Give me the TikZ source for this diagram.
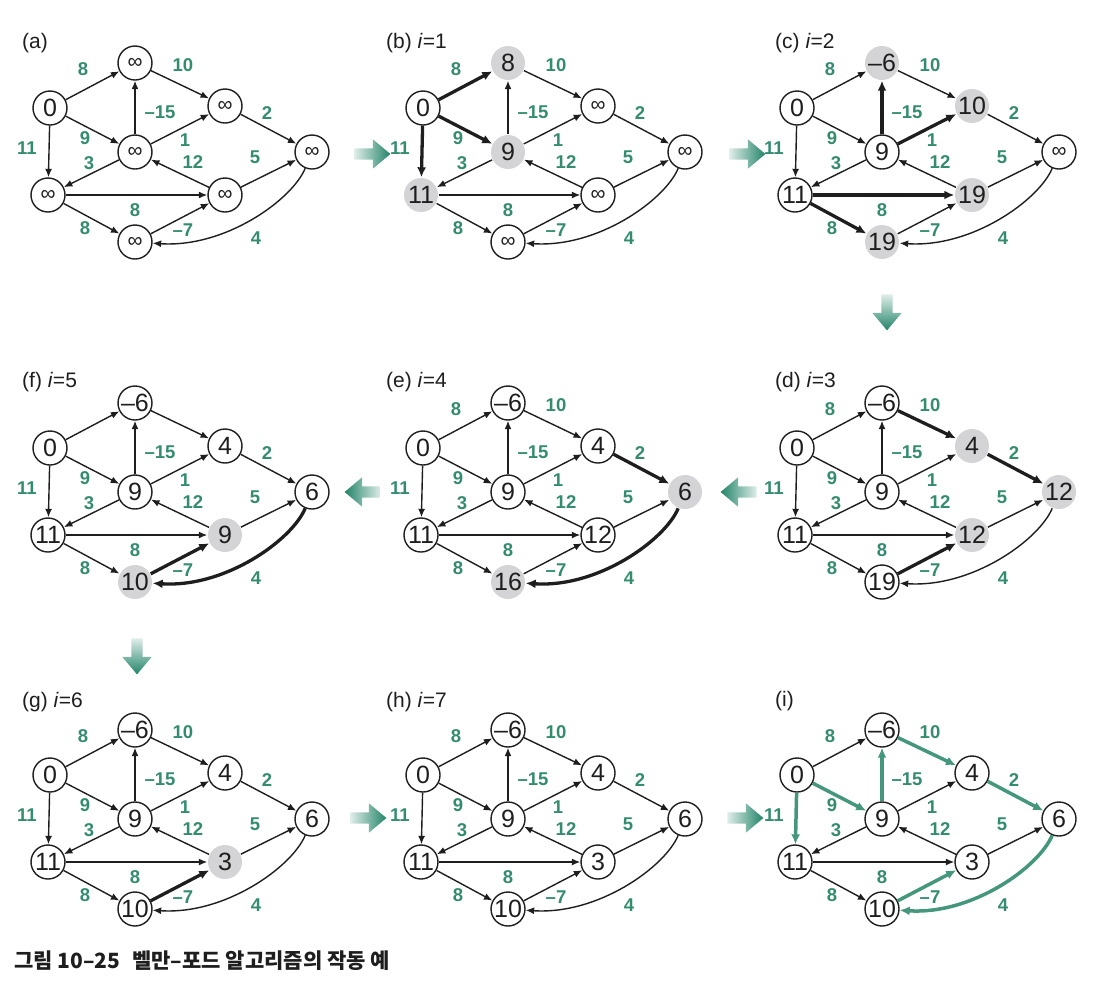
\documentclass[tikz,border=0pt]{standalone}
\usepackage{fontspec}
\setmainfont{Liberation Sans}
\newfontfamily\cjk{Noto Sans CJK KR}
\usetikzlibrary{arrows.meta,shapes.arrows}
\definecolor{lblgreen}{RGB}{52,140,112}
\definecolor{agreen}{RGB}{34,132,104}
\definecolor{egreen}{RGB}{68,150,125}
\definecolor{nodegray}{RGB}{212,212,214}
\definecolor{ink}{RGB}{30,30,30}
\newcommand\infv{{\fontsize{21}{21}\selectfont ∞}}
\tikzset{
 vnode/.style={circle, draw=ink, line width=1.4pt, minimum size=34pt, inner sep=0pt, text=ink, font=\fontsize{25}{25}\selectfont},
 grayv/.style={fill=nodegray, draw=none},
 edge/.style={draw=ink, line width=1.4pt, -{Latex[length=8.5pt,width=7pt]}},
 boldedge/.style={line width=3.3pt, -{Latex[length=10pt,width=9pt]}},
 greenedge/.style={draw=egreen, line width=3.5pt, -{Latex[length=10pt,width=9pt]}},
 elab/.style={text=lblgreen, font=\fontsize{18.5}{18.5}\selectfont\bfseries, inner sep=0pt},
 plab/.style={anchor=west, text=ink, font=\fontsize{21}{21}\selectfont, inner sep=0pt},
 blockarrow/.style={single arrow, minimum height=36pt, minimum width=29pt, inner sep=5.5pt, single arrow head extend=9pt, single arrow tip angle=80, draw=none},
 rarrow/.style={blockarrow, left color=agreen!15, right color=agreen},
 larrow/.style={blockarrow, shape border rotate=180, right color=agreen!15, left color=agreen},
 darrow/.style={blockarrow, shape border rotate=270, top color=agreen!15, bottom color=agreen},
 panel a/.style={shift={(0,0)}},
 panel b/.style={shift={(373,0)}},
 panel c/.style={shift={(747,0)}},
 panel d/.style={shift={(747,340)}},
 panel e/.style={shift={(373,340)}},
 panel f/.style={shift={(0,340)}},
 panel g/.style={shift={(0,667)}},
 panel h/.style={shift={(373,667)}},
 panel i/.style={shift={(747,667)}},
 hl b t/.style=grayv, hl b m/.style=grayv, hl b l/.style=grayv,
 hl b st/.style=boldedge, hl b sm/.style=boldedge, hl b sl/.style=boldedge,
 hl c t/.style=grayv, hl c u/.style=grayv, hl c r/.style=grayv, hl c b/.style=grayv,
 hl c mt/.style=boldedge, hl c mu/.style=boldedge, hl c lr/.style=boldedge, hl c lb/.style=boldedge,
 hl d u/.style=grayv, hl d z/.style=grayv, hl d r/.style=grayv,
 hl d tu/.style=boldedge, hl d uz/.style=boldedge, hl d br/.style=boldedge,
 hl e z/.style=grayv, hl e b/.style=grayv,
 hl e uz/.style=boldedge, hl e zb/.style=boldedge,
 hl f r/.style=grayv, hl f b/.style=grayv,
 hl f br/.style=boldedge, hl f zb/.style=boldedge,
 hl g r/.style=grayv,
 hl g br/.style=boldedge,
 hl i sm/.style=greenedge, hl i sl/.style=greenedge, hl i mt/.style=greenedge,
 hl i tu/.style=greenedge, hl i uz/.style=greenedge, hl i zb/.style=greenedge, hl i br/.style=greenedge,
}
\newcommand\bfpanel[9]{%
 \begin{scope}[panel #1, name prefix=#1-]
  \node[vnode, hl #1 s/.try] (s) at (50,108) {#2};
  \node[vnode, hl #1 t/.try] (t) at (135,63) {#3};
  \node[vnode, hl #1 u/.try] (u) at (225,106) {#4};
  \node[vnode, hl #1 m/.try] (m) at (135,152) {#5};
  \node[vnode, hl #1 z/.try] (z) at (312,152) {#6};
  \node[vnode, hl #1 l/.try] (l) at (48,195) {#7};
  \node[vnode, hl #1 r/.try] (r) at (225,195) {#8};
  \node[vnode, hl #1 b/.try] (b) at (135,242) {#9};
  \draw[edge, hl #1 st/.try] (s) -- (t);
  \draw[edge, hl #1 tu/.try] (t) -- (u);
  \draw[edge, hl #1 mt/.try] (m) -- (t);
  \draw[edge, hl #1 uz/.try] (u) -- (z);
  \draw[edge, hl #1 sm/.try] (s) -- (m);
  \draw[edge, hl #1 mu/.try] (m) -- (u);
  \draw[edge, hl #1 sl/.try] (s) -- (l);
  \draw[edge, hl #1 ml/.try] (m) -- (l);
  \draw[edge, hl #1 rm/.try] (r) -- (m);
  \draw[edge, hl #1 rz/.try] (r) -- (z);
  \draw[edge, hl #1 lr/.try] (l) -- (r);
  \draw[edge, hl #1 lb/.try] (l) -- (b);
  \draw[edge, hl #1 br/.try] (b) -- (r);
  \draw[edge, hl #1 zb/.try] (z) .. controls +(-20,48) and +(90,6) .. (b);
  \node[elab] (Lmt) at (160,112) {–15};
  \node[elab] (Luz) at (267,113) {2};
  \node[elab] (Lsm) at (85,138) {9};
  \node[elab] (Lmu) at (185,140) {1};
  \node[elab] (Lsl) at (27,148) {11};
  \node[elab] (Lml) at (89,163) {3};
  \node[elab] (Lrm) at (193,162) {12};
  \node[elab] (Lrz) at (255,157) {5};
  \node[elab] (Llr) at (135,210) {8};
  \node[elab] (Llb) at (85,228) {8};
  \node[elab] (Lbr) at (183,230) {–7};
  \node[elab] (Lzb) at (256,238) {4};
 \end{scope}}
\newcommand\toplabs[1]{%
 \begin{scope}[panel #1, name prefix=#1-]
  \node[elab] (Lst) at (83,69) {8};
  \node[elab] (Ltu) at (183,65) {10};
 \end{scope}}
\begin{document}
\begin{tikzpicture}[x=1pt,y=-1pt]
\useasboundingbox (0,0) rectangle (1095,994);
% panels
\bfpanel{a}{0}{\infv}{\infv}{\infv}{\infv}{\infv}{\infv}{\infv}\toplabs{a}
\bfpanel{b}{0}{8}{\infv}{9}{\infv}{11}{\infv}{\infv}\toplabs{b}
\bfpanel{c}{0}{–6}{10}{9}{\infv}{11}{19}{19}\toplabs{c}
\bfpanel{d}{0}{–6}{4}{9}{12}{11}{12}{19}\toplabs{d}
\bfpanel{e}{0}{–6}{4}{9}{6}{11}{12}{16}\toplabs{e}
\bfpanel{f}{0}{–6}{4}{9}{6}{11}{9}{10}
\bfpanel{g}{0}{–6}{4}{9}{6}{11}{3}{10}\toplabs{g}
\bfpanel{h}{0}{–6}{4}{9}{6}{11}{3}{10}\toplabs{h}
\bfpanel{i}{0}{–6}{4}{9}{6}{11}{3}{10}\toplabs{i}
% panel titles
\node[plab] (Ta) at (22,43) {(a)};
\node[plab] (Tb) at (386,43) {(b) \textit{i}=1};
\node[plab] (Tc) at (775,43) {(c) \textit{i}=2};
\node[plab] (Tf) at (22,382) {(f) \textit{i}=5};
\node[plab] (Te) at (386,382) {(e) \textit{i}=4};
\node[plab] (Td) at (775,382) {(d) \textit{i}=3};
\node[plab] (Tg) at (22,702) {(g) \textit{i}=6};
\node[plab] (Th) at (386,702) {(h) \textit{i}=7};
\node[plab] (Ti) at (775,701) {(i)};
% step arrows
\node[rarrow] (AB) at (369,154) {};
\node[rarrow] (BC) at (744,154) {};
\node[darrow] (CD) at (887,309) {};
\node[larrow] (DE) at (742,492) {};
\node[larrow] (EF) at (366,492) {};
\node[darrow] (FG) at (137,653) {};
\node[rarrow] (GH) at (365,818) {};
\node[rarrow] (HI) at (742,818) {};
% caption
\node[anchor=west, inner sep=0pt, text=ink, font=\cjk\bfseries\fontsize{21}{21}\selectfont] (cap) at (14,961) {그림 10–25\hspace{12pt}벨만–포드 알고리즘의 작동 예};
\end{tikzpicture}
\end{document}
